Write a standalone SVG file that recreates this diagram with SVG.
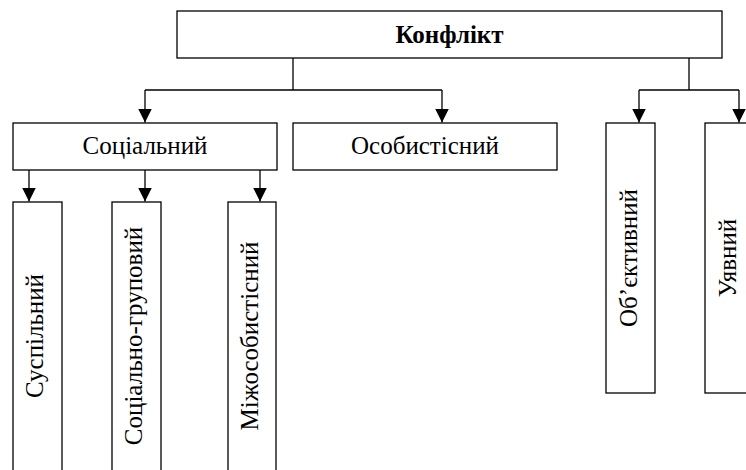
<svg xmlns="http://www.w3.org/2000/svg" width="746" height="470" viewBox="0 0 746 470">
<defs>
<style>
.box{fill:#fff;stroke:#000;stroke-width:1.3}
.ln{fill:none;stroke:#000;stroke-width:1.3}
.t{font-family:"Liberation Serif","Times New Roman",serif;font-size:25px;fill:#000;text-anchor:middle}
.b{font-weight:bold;font-size:25px}
</style>
<marker id="ah" markerUnits="userSpaceOnUse" markerWidth="14" markerHeight="14" refX="14" refY="7" orient="auto" viewBox="0 0 14 14">
<path d="M0,0 L14,7 L0,14 z" fill="#000"/>
</marker>
</defs>
<rect width="746" height="470" fill="#fff"/>
<g id="connectors">
<path class="ln" d="M293,58 V90 M145,90 H442"/>
<path class="ln" d="M145,90 V122.5" marker-end="url(#ah)"/>
<path class="ln" d="M442,90 V122.5" marker-end="url(#ah)"/>
<path class="ln" d="M689,58 V90 M639,90 H739"/>
<path class="ln" d="M639,90 V122.5" marker-end="url(#ah)"/>
<path class="ln" d="M739,90 V122.5" marker-end="url(#ah)"/>
<path class="ln" d="M29,170 V201.5" marker-end="url(#ah)"/>
<path class="ln" d="M145,170 V201.5" marker-end="url(#ah)"/>
<path class="ln" d="M260,170 V201.5" marker-end="url(#ah)"/>
</g>
<g id="konflikt">
<rect class="box" x="177" y="11" width="545" height="47"/>
<text class="t b" x="449.5" y="42.5">Конфлікт</text>
</g>
<g id="sotsialnyi">
<rect class="box" x="13" y="123" width="264" height="47"/>
<text class="t" x="145" y="153.5">Соціальний</text>
</g>
<g id="osobystisnyi">
<rect class="box" x="293" y="123" width="264" height="47"/>
<text class="t" x="425" y="153.5">Особистісний</text>
</g>
<g id="suspilnyi">
<rect class="box" x="13" y="202" width="49" height="290"/>
<text class="t" transform="translate(43,336) rotate(-90)">Суспільний</text>
</g>
<g id="sotsialno-hrupovyi">
<rect class="box" x="112" y="202" width="49" height="290"/>
<text class="t" transform="translate(142,336) rotate(-90)">Соціально-груповий</text>
</g>
<g id="mizhosobystisnyi">
<rect class="box" x="228" y="202" width="48" height="290"/>
<text class="t" transform="translate(258,336) rotate(-90)">Міжособистісний</text>
</g>
<g id="obiektyvnyi">
<rect class="box" x="606" y="123" width="49" height="270"/>
<text class="t" transform="translate(637,258) rotate(-90)">Об’єктивний</text>
</g>
<g id="uiavnyi">
<rect class="box" x="705" y="123" width="49" height="270"/>
<text class="t" transform="translate(736,258) rotate(-90)">Уявний</text>
</g>
</svg>
